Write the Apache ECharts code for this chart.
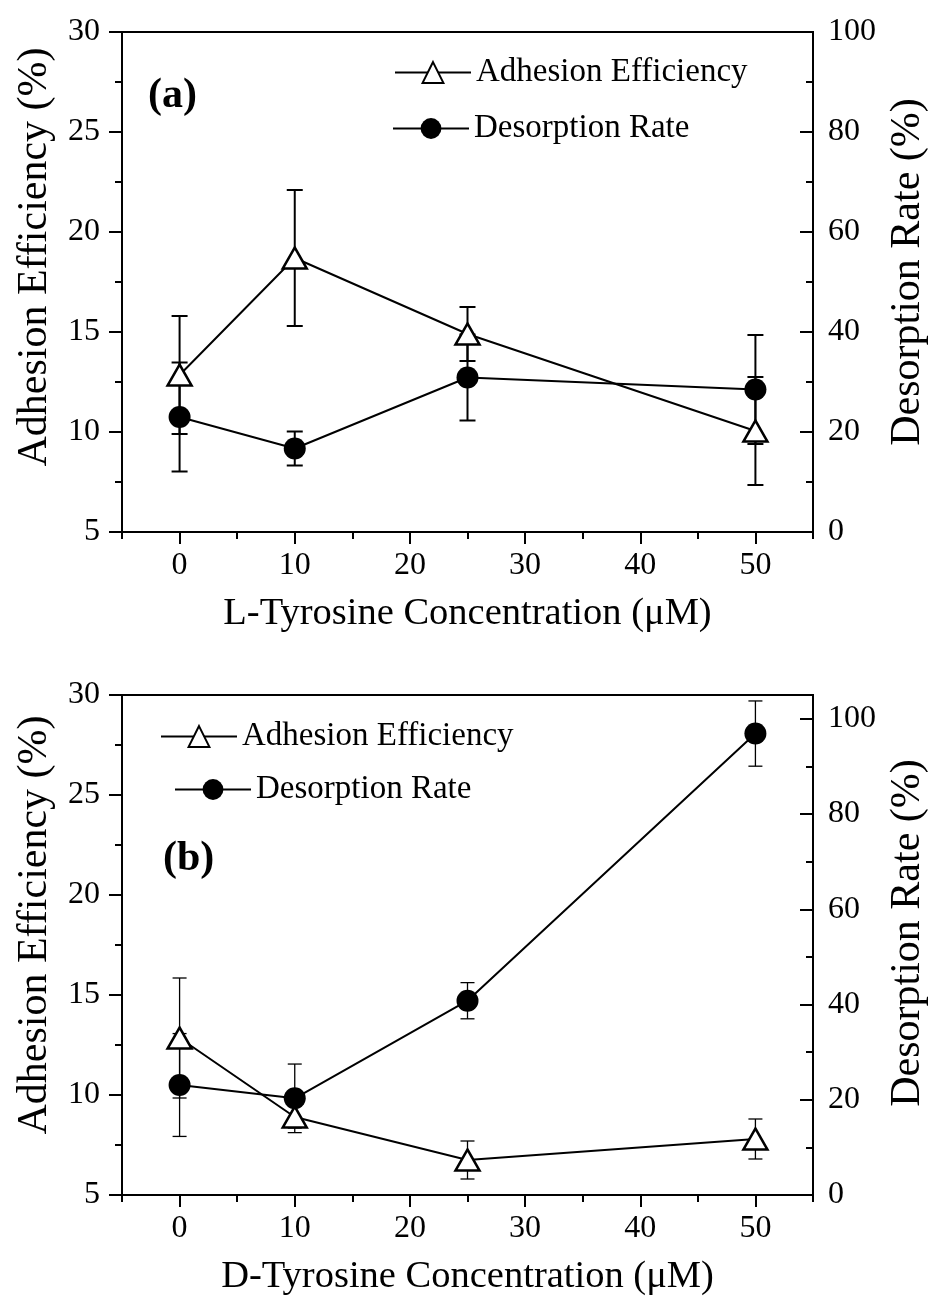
<!DOCTYPE html>
<html><head><meta charset="utf-8">
<script src="https://cdn.jsdelivr.net/npm/echarts@6/dist/echarts.min.js"></script>
<style>html,body{margin:0;padding:0;background:#fff}#c{width:932px;height:1302px}</style>
</head><body><div id="c"></div>
<script>
// ---- data ----
const concentrations = [0, 10, 25, 50];
const xTicks = [0, 10, 20, 30, 40, 50];
const xMinorTicks = [-5, 5, 15, 25, 35, 45, 55];
const leftTicks = [5, 10, 15, 20, 25, 30];
const leftMinorTicks = [7.5, 12.5, 17.5, 22.5, 27.5];
const rightTicks = [0, 20, 40, 60, 80, 100];
const rightMinorTicks = [10, 30, 50, 70, 90];

// Panel (a): L-Tyrosine
const adhesionL = [12.85, 18.7, 14.9, 10.05];
const adhesionLErr = [2.95, 3.4, 1.35, 2.7];
const desorptionL = [23.0, 16.7, 30.9, 28.5];
const desorptionLErr = [10.9, 3.4, 8.6, 10.9];

// Panel (b): D-Tyrosine
const adhesionD = [12.85, 8.9, 6.75, 7.8];
const adhesionDErr = [3.0, 0.55, 0.95, 1.0];
const desorptionD = [23.1, 20.3, 40.8, 96.9];
const desorptionDErr = [10.8, 7.2, 3.8, 6.85];

const FONT = 'Liberation Serif';
const BLACK = '#000';

function pairs(xs, ys) { return xs.map((x, i) => [x, ys[i]]); }
function errData(xs, ys, es) { return xs.map((x, i) => [x, ys[i] - es[i], ys[i] + es[i]]); }
function errRender(cap, lw) {
  return function (params, api) {
    const x = api.value(0), lo = api.value(1), hi = api.value(2);
    const a = api.coord([x, lo]), b = api.coord([x, hi]);
    const h = cap / 2;
    const st = { stroke: BLACK, lineWidth: lw };
    return { type: 'group', children: [
      { type: 'line', shape: { x1: a[0], y1: a[1], x2: b[0], y2: b[1] }, style: st },
      { type: 'line', shape: { x1: a[0] - h, y1: a[1], x2: a[0] + h, y2: a[1] }, style: st },
      { type: 'line', shape: { x1: b[0] - h, y1: b[1], x2: b[0] + h, y2: b[1] }, style: st }
    ]};
  };
}

const grids = [
  { left: 122, right: 119, top: 32, height: 500, containLabel: false, outerBoundsMode: 'none', show: true, borderColor: BLACK, borderWidth: 2, backgroundColor: 'transparent' },
  { left: 122, right: 119, top: 695, height: 500, containLabel: false, outerBoundsMode: 'none', show: true, borderColor: BLACK, borderWidth: 2, backgroundColor: 'transparent' }
];

const xNames = ['L-Tyrosine Concentration (\u03bcM)', 'D-Tyrosine Concentration (\u03bcM)'];
const rightMax = [100, 105];
const leftNamePad = [50, 40];
const rightNamePad = [20, 24];

const xAxes = [], yAxes = [];
[0, 1].forEach(g => {
  xAxes.push({
    gridIndex: g, type: 'value', min: -5, max: 55, position: 'bottom',
    axisLine: { show: true, onZero: false, lineStyle: { color: BLACK, width: 2 } },
    axisTick: { show: true, customValues: xTicks, length: 12, lineStyle: { color: BLACK, width: 2 } },
    axisLabel: { show: true, customValues: xTicks, margin: 18, color: BLACK, fontFamily: FONT, fontSize: 32 },
    splitLine: { show: false },
    name: xNames[g], nameLocation: 'middle', nameGap: 62,
    nameTextStyle: { color: BLACK, fontFamily: FONT, fontSize: 38.5 }
  });
  xAxes.push({
    gridIndex: g, type: 'value', min: -5, max: 55, position: 'bottom',
    axisLine: { show: false, onZero: false },
    axisTick: { show: true, customValues: xMinorTicks, length: 7, lineStyle: { color: BLACK, width: 2 } },
    axisLabel: { show: false }, splitLine: { show: false }
  });
  yAxes.push({
    gridIndex: g, type: 'value', min: 5, max: 30, position: 'left',
    axisLine: { show: true, onZero: false, lineStyle: { color: BLACK, width: 2 } },
    axisTick: { show: true, customValues: leftTicks, length: 13, lineStyle: { color: BLACK, width: 2 } },
    axisLabel: { show: true, customValues: leftTicks, margin: 22, color: BLACK, fontFamily: FONT, fontSize: 32 },
    splitLine: { show: false },
    name: 'Adhesion Efficiency (%)', nameLocation: 'middle', nameGap: 66,
    nameTextStyle: { color: BLACK, fontFamily: FONT, fontSize: 42, padding: [0, 0, 0, leftNamePad[g]] }
  });
  yAxes.push({
    gridIndex: g, type: 'value', min: 5, max: 30, position: 'left',
    axisLine: { show: false, onZero: false },
    axisTick: { show: true, customValues: leftMinorTicks, length: 7, lineStyle: { color: BLACK, width: 2 } },
    axisLabel: { show: false }, splitLine: { show: false }
  });
  yAxes.push({
    gridIndex: g, type: 'value', min: 0, max: rightMax[g], position: 'right',
    axisLine: { show: true, onZero: false, lineStyle: { color: BLACK, width: 2 } },
    axisTick: { show: true, inside: true, customValues: rightTicks, length: 13, lineStyle: { color: BLACK, width: 2 } },
    axisLabel: { show: true, customValues: rightTicks, margin: 15, color: BLACK, fontFamily: FONT, fontSize: 32 },
    splitLine: { show: false },
    name: 'Desorption Rate (%)', nameLocation: 'middle', nameGap: 66,
    nameTextStyle: { color: BLACK, fontFamily: FONT, fontSize: 42, padding: [0, 0, 0, rightNamePad[g]] }
  });
  yAxes.push({
    gridIndex: g, type: 'value', min: 0, max: rightMax[g], position: 'right',
    axisLine: { show: false, onZero: false },
    axisTick: { show: true, inside: true, customValues: rightMinorTicks, length: 7, lineStyle: { color: BLACK, width: 2 } },
    axisLabel: { show: false }, splitLine: { show: false }
  });
});

const panels = [
  { ad: adhesionL, adE: adhesionLErr, de: desorptionL, deE: desorptionLErr, cap: 16, elw: 2 },
  { ad: adhesionD, adE: adhesionDErr, de: desorptionD, deE: desorptionDErr, cap: 14, elw: 1.3 }
];

const series = [];
panels.forEach((p, g) => {
  const xi = g * 2, yl = g * 4, yr = g * 4 + 2;
  series.push({
    type: 'custom', name: 'Adhesion Efficiency err', xAxisIndex: xi, yAxisIndex: yl, z: 2,
    data: errData(concentrations, p.ad, p.adE), encode: { x: 0, y: [1, 2] },
    renderItem: errRender(p.cap, p.elw), silent: true
  });
  series.push({
    type: 'custom', name: 'Desorption Rate err', xAxisIndex: xi, yAxisIndex: yr, z: 2,
    data: errData(concentrations, p.de, p.deE), encode: { x: 0, y: [1, 2] },
    renderItem: errRender(p.cap, p.elw), silent: true
  });
  series.push({
    type: 'line', name: 'Adhesion Efficiency', xAxisIndex: xi, yAxisIndex: yl, z: 3,
    data: pairs(concentrations, p.ad),
    symbol: 'triangle', symbolSize: [24, 21], showAllSymbol: true,
    itemStyle: { color: '#fff', borderColor: BLACK, borderWidth: 2.5 },
    lineStyle: { color: BLACK, width: 2 }
  });
  series.push({
    type: 'line', name: 'Desorption Rate', xAxisIndex: xi, yAxisIndex: yr, z: 3,
    data: pairs(concentrations, p.de),
    symbol: 'circle', symbolSize: 22, showAllSymbol: true,
    itemStyle: { color: BLACK, borderColor: BLACK, borderWidth: 0 },
    lineStyle: { color: BLACK, width: 2 }
  });
});

function legendItem(name, left, centerY) {
  return {
    data: [name], left: left, top: centerY - 17, orient: 'horizontal', padding: 0,
    itemWidth: 76, itemHeight: 26, itemGap: 10, selectedMode: false,
    textStyle: { color: BLACK, fontFamily: FONT, fontSize: 33 }
  };
}

const option = {
  animation: false,
  backgroundColor: '#fff',
  grid: grids,
  xAxis: xAxes,
  yAxis: yAxes,
  legend: [
    legendItem('Adhesion Efficiency', 394, 73),
    legendItem('Desorption Rate', 392, 129),
    legendItem('Adhesion Efficiency', 160, 737),
    legendItem('Desorption Rate', 174, 790)
  ],
  graphic: [
    { type: 'text', left: 148, top: 75, style: { text: '(a)', font: 'bold 42px "Liberation Serif"', fill: BLACK } },
    { type: 'text', left: 163, top: 838, style: { text: '(b)', font: 'bold 42px "Liberation Serif"', fill: BLACK } }
  ],
  series: series
};

const chart = echarts.init(document.getElementById('c'), null, { renderer: 'canvas' });
chart.setOption(option);
</script>
</body></html>
